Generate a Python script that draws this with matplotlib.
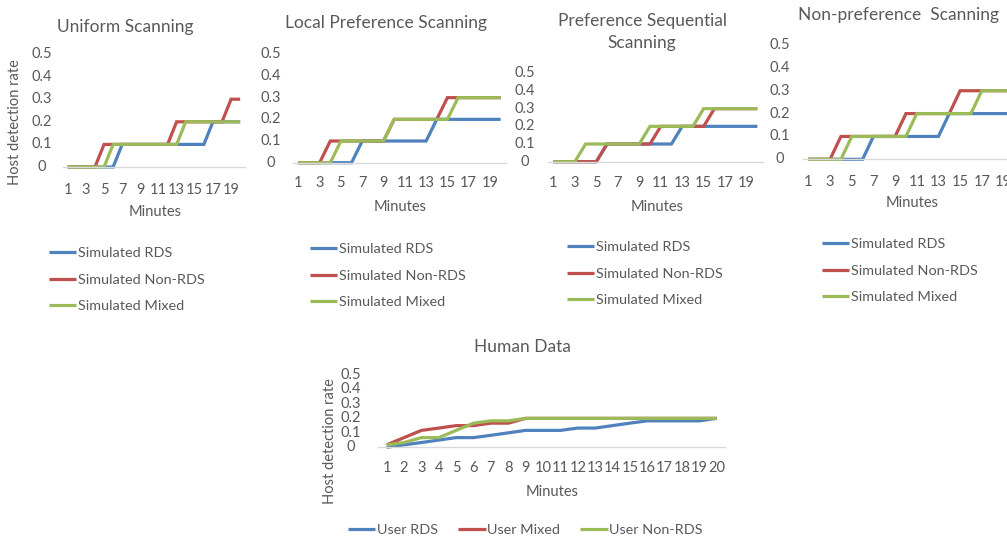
import matplotlib
matplotlib.use('Agg')
import matplotlib.pyplot as plt

plt.rcParams['font.family'] = ['Lato', 'DejaVu Sans']

W, H = 1007, 540
TEXT = '#595959'
AXIS = '#D9D9D9'
BLUE, RED, GREEN = '#4F81BD', '#C0504D', '#9BBB59'

minutes = list(range(1, 21))
odd_ticks = list(range(1, 21, 2))
y_ticks = [0, 0.1, 0.2, 0.3, 0.4, 0.5]
y_tick_labels = ['0', '0.1', '0.2', '0.3', '0.4', '0.5']

sim_labels = ['Simulated RDS', 'Simulated Non-RDS', 'Simulated Mixed']
user_labels = ['User RDS', 'User Mixed', 'User Non-RDS']

# simulated host detection rate per minute
uniform_rds = [0, 0, 0, 0, 0, 0, 0.1, 0.1, 0.1, 0.1, 0.1, 0.1, 0.1, 0.1, 0.1, 0.1, 0.2, 0.2, 0.2, 0.2]
uniform_nonrds = [0, 0, 0, 0, 0.1, 0.1, 0.1, 0.1, 0.1, 0.1, 0.1, 0.1, 0.2, 0.2, 0.2, 0.2, 0.2, 0.2, 0.3, 0.3]
uniform_mixed = [0, 0, 0, 0, 0, 0.1, 0.1, 0.1, 0.1, 0.1, 0.1, 0.1, 0.1, 0.2, 0.2, 0.2, 0.2, 0.2, 0.2, 0.2]

local_rds = [0, 0, 0, 0, 0, 0, 0.1, 0.1, 0.1, 0.1, 0.1, 0.1, 0.1, 0.2, 0.2, 0.2, 0.2, 0.2, 0.2, 0.2]
local_nonrds = [0, 0, 0, 0.1, 0.1, 0.1, 0.1, 0.1, 0.1, 0.2, 0.2, 0.2, 0.2, 0.2, 0.3, 0.3, 0.3, 0.3, 0.3, 0.3]
local_mixed = [0, 0, 0, 0, 0.1, 0.1, 0.1, 0.1, 0.1, 0.2, 0.2, 0.2, 0.2, 0.2, 0.2, 0.3, 0.3, 0.3, 0.3, 0.3]

seq_rds = [0, 0, 0, 0, 0, 0.1, 0.1, 0.1, 0.1, 0.1, 0.1, 0.1, 0.2, 0.2, 0.2, 0.2, 0.2, 0.2, 0.2, 0.2]
seq_nonrds = [0, 0, 0, 0, 0, 0.1, 0.1, 0.1, 0.1, 0.1, 0.2, 0.2, 0.2, 0.2, 0.2, 0.3, 0.3, 0.3, 0.3, 0.3]
seq_mixed = [0, 0, 0, 0.1, 0.1, 0.1, 0.1, 0.1, 0.1, 0.2, 0.2, 0.2, 0.2, 0.2, 0.3, 0.3, 0.3, 0.3, 0.3, 0.3]

nonpref_rds = [0, 0, 0, 0, 0, 0, 0.1, 0.1, 0.1, 0.1, 0.1, 0.1, 0.1, 0.2, 0.2, 0.2, 0.2, 0.2, 0.2, 0.2]
nonpref_nonrds = [0, 0, 0, 0.1, 0.1, 0.1, 0.1, 0.1, 0.1, 0.2, 0.2, 0.2, 0.2, 0.2, 0.3, 0.3, 0.3, 0.3, 0.3, 0.3]
nonpref_mixed = [0, 0, 0, 0, 0.1, 0.1, 0.1, 0.1, 0.1, 0.1, 0.2, 0.2, 0.2, 0.2, 0.2, 0.2, 0.3, 0.3, 0.3, 0.3]

# observed rates from the human participants
user_rds = [0, 0.017, 0.033, 0.05, 0.067, 0.067, 0.083, 0.1, 0.117, 0.117,
            0.117, 0.133, 0.133, 0.15, 0.167, 0.183, 0.183, 0.183, 0.183, 0.2]
user_mixed = [0.017, 0.067, 0.117, 0.133, 0.15, 0.15, 0.167, 0.167, 0.2, 0.2,
              0.2, 0.2, 0.2, 0.2, 0.2, 0.2, 0.2, 0.2, 0.2, 0.2]
user_nonrds = [0.017, 0.033, 0.067, 0.067, 0.117, 0.167, 0.183, 0.183, 0.2, 0.2,
               0.2, 0.2, 0.2, 0.2, 0.2, 0.2, 0.2, 0.2, 0.2, 0.2]


def fx(x):
    return x / W


def fy(y):
    return 1 - y / H


def make_axes(fig, left, top, right, bottom):
    return fig.add_axes([fx(left), fy(bottom), (right - left) / W, (bottom - top) / H])


def style_axes(ax, xticks, ylab_pad, xlab_pad, fs=10.5):
    ax.set_xlim(0.5, 20.5)
    ax.set_ylim(0, 0.5)
    for s in ['top', 'right', 'left']:
        ax.spines[s].set_visible(False)
    ax.spines['bottom'].set_color(AXIS)
    ax.spines['bottom'].set_linewidth(1)
    ax.set_xticks(xticks)
    ax.set_xticklabels([str(t) for t in xticks])
    ax.set_yticks(y_ticks)
    ax.set_yticklabels(y_tick_labels)
    ax.tick_params(length=0, labelsize=fs, labelcolor=TEXT)
    ax.tick_params(axis='y', pad=ylab_pad * 0.72)
    ax.tick_params(axis='x', pad=xlab_pad * 0.72)
    for lbl in ax.get_yticklabels():
        lbl.set_ha('center')
        lbl.set_va('center')
    for lbl in ax.get_xticklabels():
        lbl.set_va('center')
    ax.patch.set_alpha(0)


def plot_series(ax, series, colors, labels):
    for vals, c, lab in zip(series, colors, labels):
        ax.plot(minutes, vals, color=c, lw=2.3, label=lab, clip_on=False,
                solid_joinstyle='miter', solid_capstyle='butt')


fig = plt.figure(figsize=(W / 100, H / 100), dpi=100)

panels = [
    dict(box=(63.2, 54, 244.7, 167), ypad=21, xpad=23,
         data=[uniform_rds, uniform_nonrds, uniform_mixed],
         title='Uniform Scanning', tpos=(125, 27), mpos=(155, 212), leg=(49, 247)),
    dict(box=(293, 54.3, 506, 162.7), ypad=22, xpad=20.5,
         data=[local_rds, local_nonrds, local_mixed],
         title='Local Preference Scanning', tpos=(386, 23), mpos=(400, 207), leg=(310, 243)),
    dict(box=(548, 73.3, 762.7, 161.7), ypad=23, xpad=21.5,
         data=[seq_rds, seq_nonrds, seq_mixed],
         title='Preference Sequential\nScanning', tpos=(642, 32), mpos=(657, 207), leg=(567, 241)),
    dict(box=(803, 45, 1019.7, 159.3), ypad=23, xpad=22.5,
         data=[nonpref_rds, nonpref_nonrds, nonpref_mixed],
         title='Non-preference  Scanning', tpos=(898, 15), mpos=(912, 203), leg=(822, 238)),
]

for p in panels:
    ax = make_axes(fig, *p['box'])
    plot_series(ax, p['data'], [BLUE, RED, GREEN], sim_labels)
    style_axes(ax, odd_ticks, p['ypad'], p['xpad'])
    fig.text(fx(p['tpos'][0]), fy(p['tpos'][1]), p['title'], ha='center', va='center',
             fontsize=12.5, color=TEXT, linespacing=1.5)
    fig.text(fx(p['mpos'][0]), fy(p['mpos'][1]), 'Minutes', ha='center', va='center',
             fontsize=10.5, color=TEXT)
    ax.legend(loc='upper left', bbox_to_anchor=(fx(p['leg'][0]), fy(p['leg'][1])),
              bbox_transform=fig.transFigure, frameon=False, fontsize=10.4,
              handlelength=1.9, handletextpad=0.1, labelspacing=1.0,
              borderpad=0, borderaxespad=0, labelcolor=TEXT)

fig.text(fx(15), fy(122), 'Host detection rate', rotation=90, ha='center', va='center',
         fontsize=10.5, color=TEXT)

# human data panel
hx = make_axes(fig, 378, 375, 725.4, 447.3)
plot_series(hx, [user_rds, user_mixed, user_nonrds], [BLUE, RED, GREEN], user_labels)
style_axes(hx, minutes, 27, 21)
fig.text(fx(522), fy(347), 'Human Data', ha='center', va='center', fontsize=12.5, color=TEXT)
fig.text(fx(552), fy(492), 'Minutes', ha='center', va='center', fontsize=10.5, color=TEXT)
fig.text(fx(330), fy(441), 'Host detection rate', rotation=90, ha='center', va='center',
         fontsize=10.5, color=TEXT)
hx.legend(loc='center left', bbox_to_anchor=(fx(348), fy(530)),
          bbox_transform=fig.transFigure, frameon=False, fontsize=10.4, ncol=3,
          handlelength=1.9, handletextpad=0.1, columnspacing=1.4,
          borderpad=0, borderaxespad=0, labelcolor=TEXT)

fig.savefig('out.png', dpi=100)
